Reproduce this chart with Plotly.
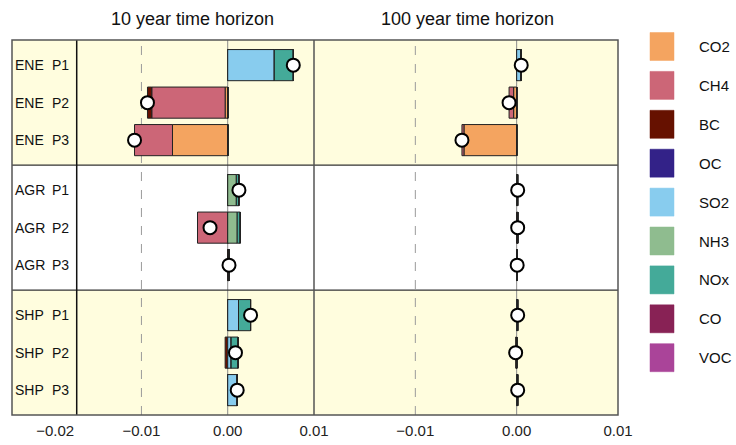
import plotly.graph_objects as go

# Rows: sector / pathway
sectors = ["ENE", "ENE", "ENE", "AGR", "AGR", "AGR", "SHP", "SHP", "SHP"]
periods = ["P1", "P2", "P3", "P1", "P2", "P3", "P1", "P2", "P3"]

gases = ["CO2", "CH4", "BC", "OC", "SO2", "NH3", "NOx", "CO", "VOC"]
gas_colors = ["#F4A460", "#CC6677", "#661100", "#332288", "#88CCEE",
              "#8FBC8F", "#44AA99", "#882255", "#AA4499"]

# Contributions, 10 year time horizon
co2_10 = [0.0, -0.0003, -0.0064, 0.0, 0.0, 0.0, 0.0, 0.0, 0.0]
ch4_10 = [0.0, -0.0085, -0.0044, 0.0, -0.0035, 0.0, 0.0, 0.0, 0.0]
bc_10 = [0.0, -0.0005, 0.0, 0.0, 0.0, 0.00015, 0.0, -0.0003, 0.0]
oc_10 = [0.0, 0.0, 0.0, 0.0, 0.0, 0.0, 0.0, 0.0, 0.0]
so2_10 = [0.0054, 0.0, 0.0, 0.0, 0.0, 0.0, 0.00125, 0.0004, 0.0011]
nh3_10 = [0.0, 0.0, 0.0, 0.0010, 0.0011, 0.0, 0.0, 0.0, 0.0]
nox_10 = [0.0022, 0.0, 0.0, 0.0003, 0.00035, 0.0, 0.0014, 0.0008, 0.0]
co_10 = [0.0, 0.0, 0.0, 0.0, 0.0, 0.0, 0.0, 0.0, 0.0]
voc_10 = [0.0, 0.0, 0.0, 0.0, 0.0, 0.0, 0.0, 0.0, 0.0]

# Contributions, 100 year time horizon
co2_100 = [0.0, -0.0003, -0.0052, 0.0, 0.0, 0.0, 0.0, 0.0, 0.0]
ch4_100 = [0.0, -0.00045, -0.0002, 0.0, 0.0, 0.0, 0.0, 0.0, 0.0]
bc_100 = [0.0, 0.0, 0.0, 0.0, 0.0001, 0.0, 0.0, -0.0001, 0.0]
oc_100 = [0.0, 0.0, 0.0, 0.0, 0.0, 0.0, 0.0, 0.0, 0.0]
so2_100 = [0.0004, 0.0, 0.0, 0.0, 0.0, 0.0, 0.0001, 0.0, 0.0001]
nh3_100 = [0.0, 0.0, 0.0, 0.0001, 0.0, 0.00005, 0.0, 0.0, 0.0]
nox_100 = [0.00005, 0.0, 0.0, 0.0, 0.0, 0.0, 0.0, 0.0, 0.0]
co_100 = [0.0, 0.0, 0.0, 0.0, 0.0, 0.0, 0.0, 0.0, 0.0]
voc_100 = [0.0, 0.0, 0.0, 0.0, 0.0, 0.0, 0.0, 0.0, 0.0]

series_10 = [co2_10, ch4_10, bc_10, oc_10, so2_10, nh3_10, nox_10, co_10, voc_10]
series_100 = [co2_100, ch4_100, bc_100, oc_100, so2_100, nh3_100, nox_100, co_100, voc_100]

left_ticks = [-0.02, -0.01, 0.0, 0.01]
left_ticktext = ["\u22120.02", "\u22120.01", "0.00", "0.01"]
right_ticks = [-0.01, 0.0, 0.01]
right_ticktext = ["\u22120.01", "0.00", "0.01"]

FONT = "Liberation Sans, Arial, Helvetica, sans-serif"
W, H = 736, 445
ML, MR, MT, MB = 12, 118, 40, 30
PW, PH = W - ML - MR, H - MT - MB

# vertical slot of each row: groups of three separated by an extra gap
ypos = [i + (i // 3) / 3.0 for i in range(len(sectors))]
Y_TOP, Y_BOT = -0.67, 9.33
SEP1 = (ypos[2] + ypos[3]) / 2
SEP2 = (ypos[5] + ypos[6]) / 2

split = (314 - ML) / PW  # paper x of the panel divider


def px_x(p):
    return (p - ML) / PW


def px_y(p):
    return (H - MB - p) / PH


fig = go.Figure()

for axis, series in (("x", series_10), ("x2", series_100)):
    for name, color, vals in zip(gases, gas_colors, series):
        fig.add_trace(go.Bar(
            x=vals, y=ypos, orientation="h", name=name,
            marker=dict(color=color, line=dict(color="#222222", width=1)),
            width=0.83, xaxis=axis, yaxis="y", showlegend=False,
        ))
    net = [sum(s[i] for s in series) for i in range(len(sectors))]
    fig.add_trace(go.Scatter(
        x=net, y=ypos, mode="markers", xaxis=axis, yaxis="y",
        marker=dict(size=13, color="white", line=dict(color="black", width=2)),
        showlegend=False,
    ))

shapes = []
# shaded sector bands
for y0, y1 in ((Y_TOP, SEP1), (SEP2, Y_BOT)):
    shapes.append(dict(type="rect", xref="paper", yref="y", x0=0, x1=1, y0=y0, y1=y1,
                       fillcolor="#FFFDDE", line=dict(width=0), layer="below"))
# reference lines in both panels
for xr in ("x", "x2"):
    shapes.append(dict(type="line", xref=xr, yref="paper", x0=-0.01, x1=-0.01, y0=0, y1=1,
                       line=dict(color="#9A9A9A", width=1, dash="dash"), layer="below"))
    shapes.append(dict(type="line", xref=xr, yref="paper", x0=0, x1=0, y0=0, y1=1,
                       line=dict(color="#8A8A8A", width=1), layer="below"))
# sector separators
for ys in (SEP1, SEP2):
    shapes.append(dict(type="line", xref="paper", yref="y", x0=0, x1=1, y0=ys, y1=ys,
                       line=dict(color="#333333", width=1.3), layer="above"))
# label column divider and panel divider
shapes.append(dict(type="line", xref="x", yref="paper", x0=-0.0175, x1=-0.0175, y0=0, y1=1,
                   line=dict(color="#111111", width=1.5), layer="above"))
shapes.append(dict(type="line", xref="paper", yref="paper", x0=split, x1=split, y0=0, y1=1,
                   line=dict(color="#555555", width=1.5), layer="above"))
# outer frame
shapes.append(dict(type="rect", xref="paper", yref="paper", x0=0, x1=1, y0=0, y1=1,
                   line=dict(color="#555555", width=1.5), layer="above"))

annotations = []
for sec, per, yp in zip(sectors, periods, ypos):
    annotations.append(dict(text=sec, x=px_x(13), y=yp, xref="paper", yref="y",
                            xanchor="left", yanchor="middle", showarrow=False,
                            font=dict(family=FONT, size=14, color="#111111")))
    annotations.append(dict(text=per, x=px_x(50), y=yp, xref="paper", yref="y",
                            xanchor="left", yanchor="middle", showarrow=False,
                            font=dict(family=FONT, size=14, color="#111111")))

for title, cx in (("10 year time horizon", px_x(192)), ("100 year time horizon", px_x(467))):
    annotations.append(dict(text=title, x=cx, y=px_y(19), xref="paper", yref="paper",
                            xanchor="center", yanchor="middle", showarrow=False,
                            font=dict(family=FONT, size=18, color="#111111")))

# gas key
for k, (name, color) in enumerate(zip(gases, gas_colors)):
    top = 32.5 + k * 38.9
    shapes.append(dict(type="rect", xref="paper", yref="paper",
                       x0=px_x(650), x1=px_x(674), y0=px_y(top + 28), y1=px_y(top),
                       fillcolor=color, line=dict(color=color, width=0.5)))
    annotations.append(dict(text=name, x=px_x(697), y=px_y(top + 14), xref="paper", yref="paper",
                            xanchor="left", yanchor="middle", showarrow=False,
                            font=dict(family=FONT, size=15, color="#111111")))

axis_common = dict(showgrid=False, zeroline=False, showline=False, ticks="",
                   ticklabelstandoff=5, automargin=False,
                   tickfont=dict(family=FONT, size=15, color="#222222"), fixedrange=True)

fig.update_layout(
    width=W, height=H,
    margin=dict(l=ML, r=MR, t=MT, b=MB, pad=0, autoexpand=False),
    paper_bgcolor="white", plot_bgcolor="white",
    barmode="relative",
    xaxis=dict(domain=[0, split], range=[-0.025, 0.01], tickvals=left_ticks,
               ticktext=left_ticktext, **axis_common),
    xaxis2=dict(domain=[split, 1], range=[-0.02, 0.01], tickvals=right_ticks,
                ticktext=right_ticktext, anchor="y", **axis_common),
    yaxis=dict(range=[Y_BOT, Y_TOP], showticklabels=False, showgrid=False,
               zeroline=False, showline=False, fixedrange=True, automargin=False),
    shapes=shapes, annotations=annotations,
    showlegend=False,
)

fig.write_html("out.html")
